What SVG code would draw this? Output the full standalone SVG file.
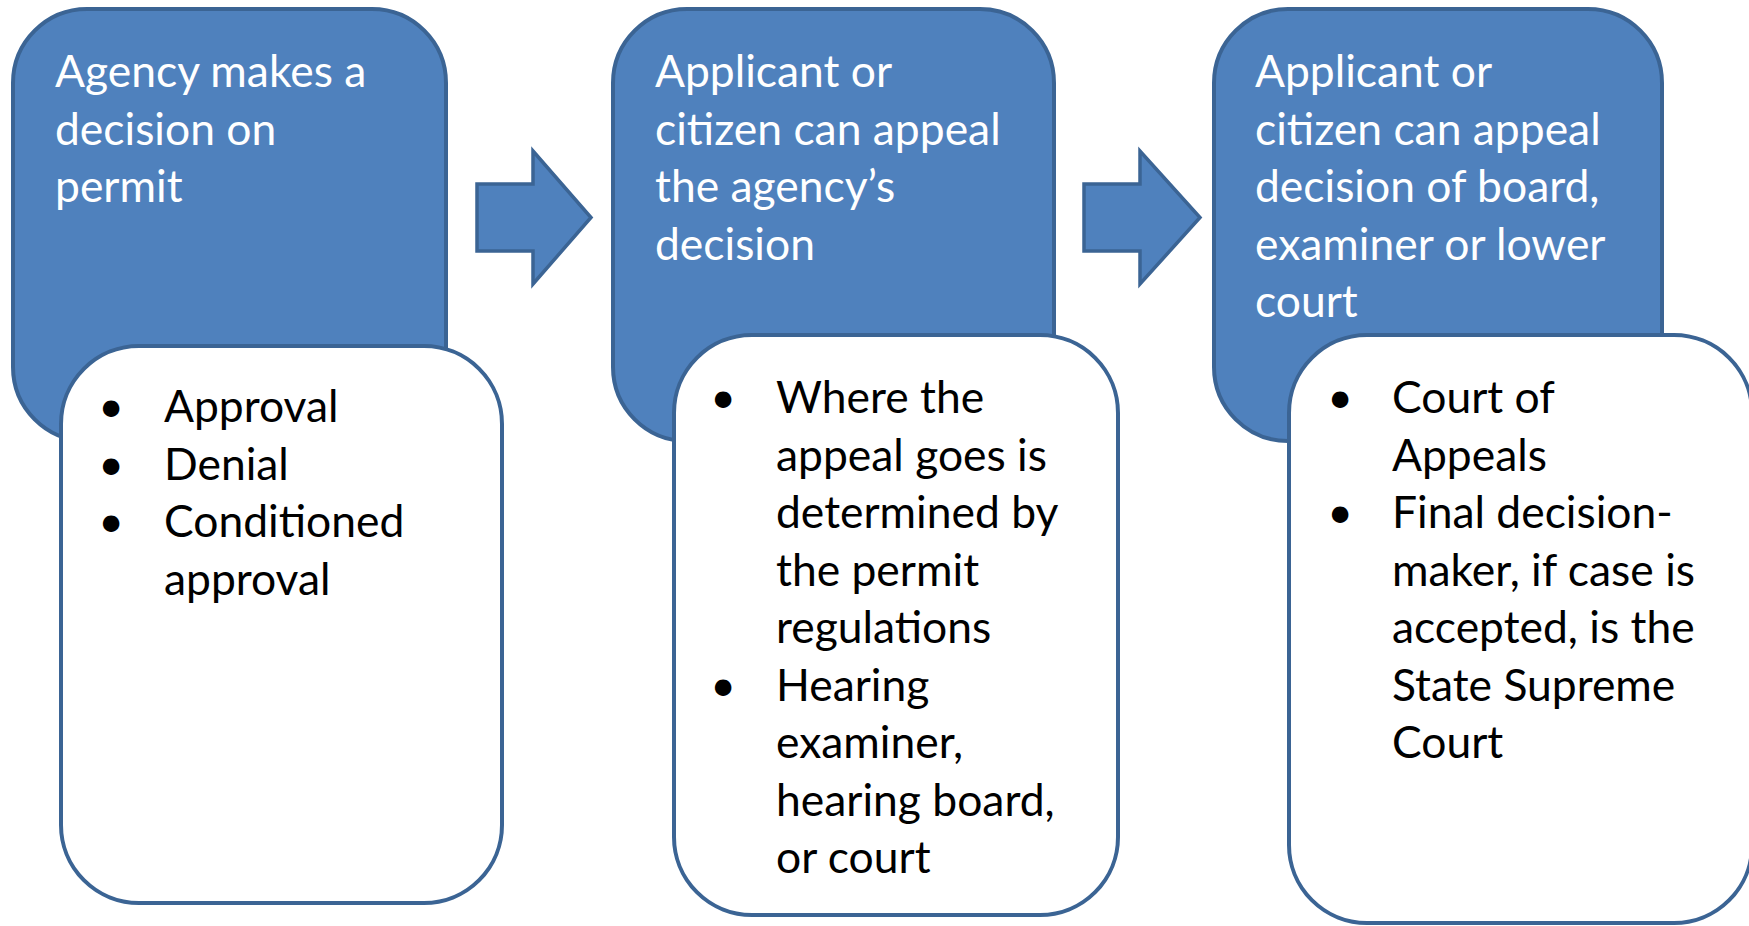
<svg xmlns="http://www.w3.org/2000/svg" width="1749" height="926" viewBox="0 0 1749 926">
<style>
.blue{fill:#4F81BD;stroke:#3B6494;stroke-width:4}
.white{fill:#FFFFFF;stroke:#3B6494;stroke-width:4}
.arrow{fill:#4F81BD;stroke:#3B6494;stroke-width:3.5;stroke-linejoin:miter}
.t{font-family:Lato,"Open Sans","Liberation Sans",sans-serif;font-size:44.4px}
.tw{fill:#FFFFFF}
.tb{fill:#000000}
</style>
<rect width="1749" height="926" fill="#FFFFFF"/>
<g id="connectors">
<polygon class="arrow" points="477,184 533,184 533,151 591,217.5 533,284 533,251 477,251"/>
<polygon class="arrow" points="1084,184 1140,184 1140,151 1200,217.5 1140,284 1140,251 1084,251"/>
</g>
<g id="node1">
<rect class="blue" x="13" y="9" width="433" height="432" rx="74" ry="74"/>
<text class="t tw" x="55" y="87">Agency makes a</text>
<text class="t tw" x="55" y="144.5">decision on</text>
<text class="t tw" x="55" y="202">permit</text>
</g>
<g id="node1-detail">
<rect class="white" x="61" y="346" width="441" height="557" rx="78" ry="78"/>
<text class="t tb" x="111" y="422" text-anchor="middle">•</text>
<text class="t tb" x="164" y="422">Approval</text>
<text class="t tb" x="111" y="479.5" text-anchor="middle">•</text>
<text class="t tb" x="164" y="479.5">Denial</text>
<text class="t tb" x="111" y="537" text-anchor="middle">•</text>
<text class="t tb" x="164" y="537">Conditioned</text>
<text class="t tb" x="164" y="594.5">approval</text>
</g>
<g id="node2">
<rect class="blue" x="613" y="9" width="441" height="432" rx="74" ry="74"/>
<text class="t tw" x="655" y="87">Applicant or</text>
<text class="t tw" x="655" y="144.5">citizen can appeal</text>
<text class="t tw" x="655" y="202">the agency’s</text>
<text class="t tw" x="655" y="259.5">decision</text>
</g>
<g id="node2-detail">
<rect class="white" x="674" y="335" width="444" height="580" rx="78" ry="78"/>
<text class="t tb" x="723" y="413" text-anchor="middle">•</text>
<text class="t tb" x="776" y="413">Where the</text>
<text class="t tb" x="776" y="470.5">appeal goes is</text>
<text class="t tb" x="776" y="528">determined by</text>
<text class="t tb" x="776" y="585.5">the permit</text>
<text class="t tb" x="776" y="643">regulations</text>
<text class="t tb" x="723" y="700.5" text-anchor="middle">•</text>
<text class="t tb" x="776" y="700.5">Hearing</text>
<text class="t tb" x="776" y="758">examiner,</text>
<text class="t tb" x="776" y="815.5">hearing board,</text>
<text class="t tb" x="776" y="873">or court</text>
</g>
<g id="node3">
<rect class="blue" x="1214" y="9" width="448" height="432" rx="74" ry="74"/>
<text class="t tw" x="1255" y="87">Applicant or</text>
<text class="t tw" x="1255" y="144.5">citizen can appeal</text>
<text class="t tw" x="1255" y="202">decision of board,</text>
<text class="t tw" x="1255" y="259.5">examiner or lower</text>
<text class="t tw" x="1255" y="317">court</text>
</g>
<g id="node3-detail">
<rect class="white" x="1289" y="335" width="463" height="588" rx="78" ry="78"/>
<text class="t tb" x="1340" y="413" text-anchor="middle">•</text>
<text class="t tb" x="1392" y="413">Court of</text>
<text class="t tb" x="1392" y="470.5">Appeals</text>
<text class="t tb" x="1340" y="528" text-anchor="middle">•</text>
<text class="t tb" x="1392" y="528">Final decision-</text>
<text class="t tb" x="1392" y="585.5">maker, if case is</text>
<text class="t tb" x="1392" y="643">accepted, is the</text>
<text class="t tb" x="1392" y="700.5">State Supreme</text>
<text class="t tb" x="1392" y="758">Court</text>
</g>
</svg>
